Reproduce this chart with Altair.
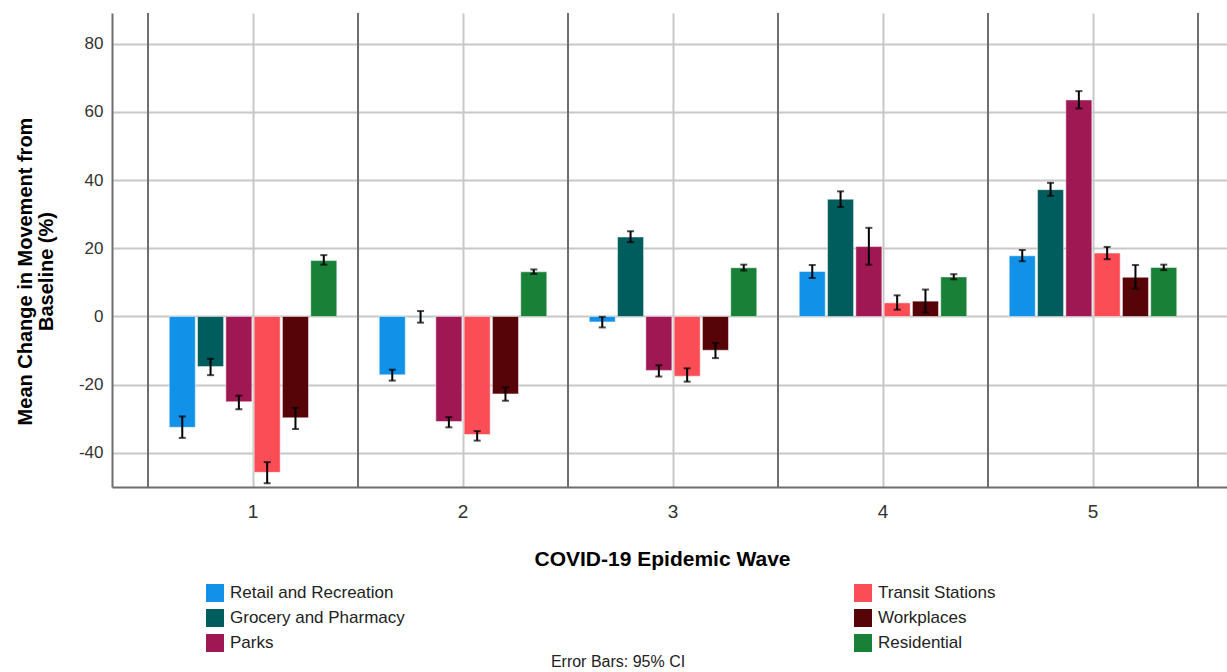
import altair as alt
import pandas as pd

waves = ["1", "2", "3", "4", "5"]
categories = ["Retail and Recreation", "Grocery and Pharmacy", "Parks",
              "Transit Stations", "Workplaces", "Residential"]
colors = ["#1192e8", "#005d5d", "#9f1853", "#fa4d56", "#570408", "#198038"]

mean_retail = [-32.5, -17.1, -1.6, 13.2, 17.8]
mean_grocery = [-14.7, -0.2, 23.3, 34.4, 37.2]
mean_parks = [-25.0, -30.8, -15.8, 20.5, 63.5]
mean_transit = [-45.7, -34.6, -17.5, 4.0, 18.6]
mean_work = [-29.7, -22.7, -9.9, 4.5, 11.5]
mean_resid = [16.4, 13.1, 14.3, 11.6, 14.4]

lo_retail = [-35.6, -18.8, -3.2, 11.3, 16.2]
lo_grocery = [-17.2, -1.8, 21.8, 32.1, 35.4]
lo_parks = [-27.2, -32.5, -17.6, 15.2, 61.0]
lo_transit = [-48.9, -36.4, -19.1, 2.0, 16.8]
lo_work = [-33.0, -24.7, -12.2, 1.2, 8.2]
lo_resid = [15.2, 12.5, 13.5, 10.9, 13.6]

hi_retail = [-29.3, -15.6, -0.1, 15.1, 19.5]
hi_grocery = [-12.4, 1.6, 25.0, 36.7, 39.2]
hi_parks = [-23.2, -29.5, -14.3, 26.0, 66.1]
hi_transit = [-42.7, -33.6, -15.2, 6.2, 20.4]
hi_work = [-26.8, -20.8, -7.8, 7.9, 15.1]
hi_resid = [18.0, 13.8, 15.2, 12.4, 15.2]

y_ticks = [-40, -20, 0, 20, 40, 60, 80]
y_title = ["Mean Change in Movement from", "Baseline (%)"]
x_title = "COVID-19 Epidemic Wave"
note = "Error Bars: 95% CI"

means = [mean_retail, mean_grocery, mean_parks, mean_transit, mean_work, mean_resid]
los = [lo_retail, lo_grocery, lo_parks, lo_transit, lo_work, lo_resid]
his = [hi_retail, hi_grocery, hi_parks, hi_transit, hi_work, hi_resid]

rows = []
for ci, cat in enumerate(categories):
    for wi, w in enumerate(waves):
        rows.append({"wave": w, "category": cat, "mean": means[ci][wi],
                     "lo": los[ci][wi], "hi": his[ci][wi]})
df = pd.DataFrame(rows)

FONT = "Arial"

xscale = alt.Scale(domain=waves, paddingInner=0, paddingOuter=0.1548, align=0.554)
yscale = alt.Scale(domain=[-50, 89], nice=False, zero=False)
offscale = alt.Scale(domain=categories, paddingInner=0.08, paddingOuter=0.75)
cscale = alt.Scale(domain=categories, range=colors)

x_axis = alt.Axis(
    title=x_title, labelAngle=0, labelFontSize=19, labelColor="#333333",
    labelFont=FONT, labelPadding=15, ticks=False, tickSize=0,
    grid=True, gridColor="#c8c8c8", gridWidth=2, bandPosition=0.5,
    domainColor="#6e6e6e", domainWidth=2,
    titleFont=FONT, titleFontSize=21, titleFontWeight="bold", titleColor="#000000",
    titleBaseline="alphabetic", titleY=78, titleX=550)
y_axis = alt.Axis(
    title=y_title, values=y_ticks, labelExpr="toString(datum.value)",
    labelFontSize=17, labelColor="#333333",
    labelFont=FONT, labelPadding=9, ticks=False, tickSize=0,
    grid=True, gridColor="#c8c8c8", gridWidth=2,
    domainColor="#6e6e6e", domainWidth=2,
    titleFont=FONT, titleFontSize=20, titleFontWeight="bold", titleColor="#000000",
    titleLineHeight=21, titleBaseline="bottom", titleX=-77, titleY=258)

off_enc = alt.XOffset("category:N", scale=offscale, sort=categories)
x_enc = alt.X("wave:N", scale=xscale, title=x_title)

bars = alt.Chart(df).mark_bar(stroke="#ffffff", strokeWidth=0.8, strokeOpacity=0.6).encode(
    x=alt.X("wave:N", scale=xscale, axis=x_axis),
    xOffset=off_enc,
    y=alt.Y("mean:Q", scale=yscale, axis=y_axis),
    color=alt.Color("category:N", scale=cscale, legend=alt.Legend(
        title=None, orient="none", legendX=94, legendY=571, columns=2,
        columnPadding=449, rowPadding=7, symbolType="square", symbolSize=324,
        symbolStrokeWidth=0, labelFont=FONT, labelFontSize=17, labelColor="#222222",
        labelOffset=6, labelLimit=400)))

err = alt.Chart(df).mark_rule(color="#000000", strokeWidth=2).encode(
    x=x_enc, xOffset=off_enc,
    y=alt.Y("lo:Q", scale=yscale, title=y_title), y2="hi:Q")
cap_lo = alt.Chart(df).mark_tick(color="#000000", thickness=2, size=7).encode(
    x=x_enc, xOffset=off_enc, y=alt.Y("lo:Q", scale=yscale, title=y_title))
cap_hi = alt.Chart(df).mark_tick(color="#000000", thickness=2, size=7).encode(
    x=x_enc, xOffset=off_enc, y=alt.Y("hi:Q", scale=yscale, title=y_title))

wdf = pd.DataFrame({"wave": waves})
bounds = alt.Chart(wdf).mark_rule(color="#6e6e6e", strokeWidth=2).encode(
    x=alt.X("wave:N", scale=xscale, title=x_title, bandPosition=0))
bound_end = alt.Chart(pd.DataFrame({"wave": [waves[-1]]})).mark_rule(
    color="#6e6e6e", strokeWidth=2).encode(
    x=alt.X("wave:N", scale=xscale, title=x_title, bandPosition=1))

note_layer = alt.Chart(pd.DataFrame({"t": [note]})).mark_text(
    font=FONT, fontSize=16, color="#222222", align="center", baseline="alphabetic").encode(
    x=alt.value(506), y=alt.value(654), text="t:N")

chart = alt.layer(bars, bounds, bound_end, err, cap_lo, cap_hi, note_layer).properties(
    width=1115, height=474,
    background="white",
    autosize=alt.AutoSizeParams(type="none"),
    padding={"left": 112, "top": 13, "right": 0, "bottom": 185},
).configure_view(stroke=None)

chart.save("out.html", embed_options={"renderer": "svg", "actions": False})
